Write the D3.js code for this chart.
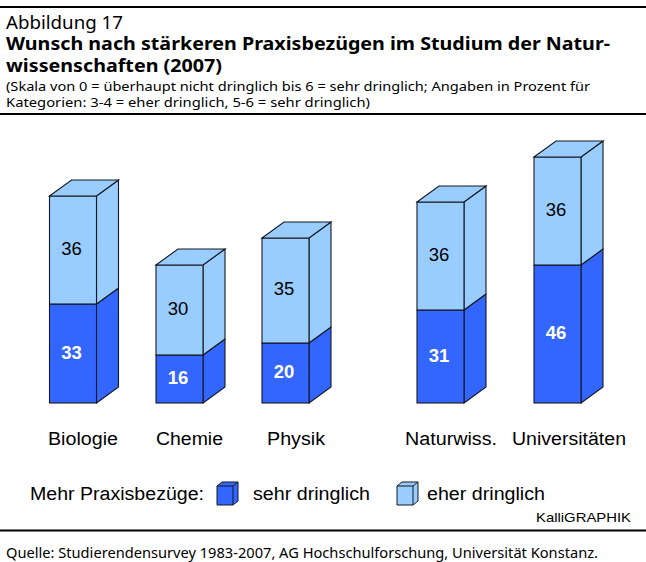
<!DOCTYPE html>
<html><head><meta charset="utf-8">
<script src="https://cdn.jsdelivr.net/npm/d3@7"></script>
<style>html,body{margin:0;padding:0;background:#fff}svg{display:block}</style>
</head><body><svg id="c" width="646" height="562"></svg>
<script>
const categories = ["Biologie","Chemie","Physik","Naturwiss.","Universitäten"];
const sehrDringlich = [33,16,20,31,46];
const eherDringlich = [36,30,35,36,36];
const seriesNames = ["sehr dringlich","eher dringlich"];
const legendTitle = "Mehr Praxisbezüge:";
const heading = "Abbildung 17";
const titleLines = ["Wunsch nach stärkeren Praxisbezügen im Studium der Natur-","wissenschaften (2007)"];
const subLines = ["(Skala von 0 = überhaupt nicht dringlich bis 6 = sehr dringlich; Angaben in Prozent für","Kategorien: 3-4 = eher dringlich, 5-6 = sehr dringlich)"];
const credit = "KalliGRAPHIK";
const source = "Quelle: Studierendensurvey 1983-2007, AG Hochschulforschung, Universität Konstanz.";

const svg = d3.select("#c");
const y = d3.scaleLinear().domain([0,90]).range([403,133]);
const x = d3.scaleOrdinal().domain(categories).range([49.5,156,262,417,534]);
const labelX = d3.scaleOrdinal().domain(categories).range([83,189.5,296,451,569]);
const W = 47, DX = 22, DY = 16;
const dark = {front:"#3366ff"};
const light = {front:"#99ccff"};
const sans = "'Noto Sans'";
const arial = "'Liberation Sans'";
const stroke = "#14181f";

function rule(yy,h){svg.append("rect").attr("x",0).attr("y",yy).attr("width",646).attr("height",h).attr("fill","#000");}
rule(6,2);rule(113,2);rule(529.5,2);

function txt(s,xx,yy,size,opt={}){
  const t=svg.append("text").attr("x",xx).attr("y",yy).attr("font-size",size)
   .attr("font-family",opt.f||sans).attr("fill",opt.c||"#000").attr("text-anchor",opt.a||"start")
   .attr("font-weight",opt.w||"normal").text(s);
  if(opt.len) t.attr("textLength",opt.len).attr("lengthAdjust","spacingAndGlyphs");
  return t;
}
txt(heading,6,29,17.5,{len:117});
txt(titleLines[0],6,50,18,{w:"bold",len:604});
txt(titleLines[1],6,72,18,{w:"bold",len:216});
txt(subLines[0],6,91,13,{len:584});
txt(subLines[1],6,107,13,{len:364});

function block(g,xx,y0,y1,col){
  g.append("path").attr("d",d3.line()([[xx+W,y0],[xx+W+DX,y0-DY],[xx+W+DX,y1-DY],[xx+W,y1]])+"Z")
   .attr("fill",col.front).attr("stroke",stroke).attr("stroke-width",1.1);
  g.append("rect").attr("x",xx).attr("y",y1).attr("width",W).attr("height",y0-y1)
   .attr("fill",col.front).attr("stroke",stroke).attr("stroke-width",1.1);
}
categories.forEach((c,i)=>{
  const g=svg.append("g");
  const xx=x(c), a=sehrDringlich[i], b=eherDringlich[i];
  const y0=y(0), y1=y(a), y2=y(a+b);
  block(g,xx,y0,y1,dark);
  block(g,xx,y1,y2,light);
  g.append("path").attr("d",d3.line()([[xx,y2],[xx+DX,y2-DY],[xx+W+DX,y2-DY],[xx+W,y2]])+"Z")
   .attr("fill",light.front).attr("stroke",stroke).attr("stroke-width",1.1);
  txt(a,xx+W/2-1.5,(y0+y1)/2+5,18.5,{f:arial,w:"bold",c:"#fff",a:"middle"});
  txt(b,xx+W/2-1.5,(y1+y2)/2+4.5,18.5,{f:arial,a:"middle"});
  txt(c,labelX(c),445,18,{f:arial,a:"middle",len:{0:70,1:67,2:58,3:92,4:114}[i]});
});

txt(legendTitle,30,500,18,{f:arial,len:174});
function legendBox(xx,col){
  const g=svg.append("g"), w=16,h=19,dx=5,dy=4, top=486;
  g.append("path").attr("d",d3.line()([[xx,top],[xx+dx,top-dy],[xx+w+dx,top-dy],[xx+w+dx,top+h-dy],[xx+w,top+h],[xx,top+h]])+"Z").attr("fill",col.front).attr("stroke",stroke);
  g.append("path").attr("d",d3.line()([[xx,top],[xx+w,top],[xx+w+dx,top-dy]])).attr("fill","none").attr("stroke",stroke);
  g.append("path").attr("d",d3.line()([[xx+w,top],[xx+w,top+h]])).attr("fill","none").attr("stroke",stroke);
}
legendBox(217,dark);
txt(seriesNames[0],253,500,18,{f:arial,len:117});
legendBox(397,light);
txt(seriesNames[1],427,500,18,{f:arial,len:118});
txt(credit,631,522,13,{f:arial,a:"end",len:95});
txt(source,6,558,14,{len:592});
</script></body></html>
